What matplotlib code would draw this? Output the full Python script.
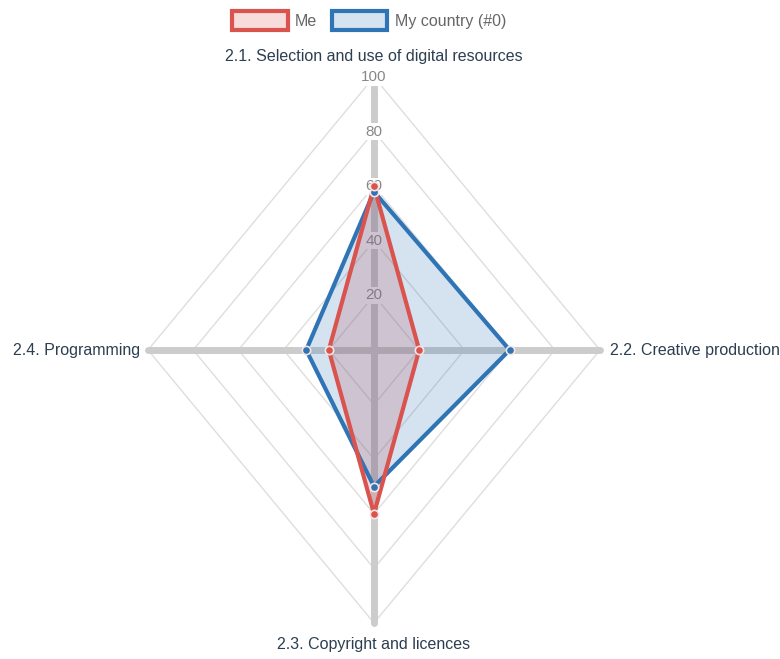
import numpy as np
import matplotlib
matplotlib.use("Agg")
import matplotlib.pyplot as plt
from matplotlib.patches import Patch

plt.rcParams['font.family'] = ['Liberation Sans', 'DejaVu Sans']

categories = ['2.1. Selection and use of digital resources', '2.2. Creative production',
              '2.3. Copyright and licences', '2.4. Programming']
me = [60, 20, 60, 20]
country = [58, 60, 50, 30]
ticks = [20, 40, 60, 80, 100]

red = '#d9534f'
blue = '#2f74b5'
text_col = '#2c3e50'

fig = plt.figure(figsize=(7.8, 6.59), dpi=100)
ax = fig.add_axes([0, 0, 1, 1])
# centre at (374, 350) px, 100 units = 226 px across, 273 px up
ax.set_xlim(-374 / 226 * 100, (780 - 374) / 226 * 100)
ax.set_ylim(-309 / 273 * 100, 350 / 273 * 100)
ax.axis('off')

n = len(categories)
theta = np.arange(n) * 2 * np.pi / n
sx = np.sin(theta)
cy = np.cos(theta)

# grid rings
for t in ticks:
    ax.plot(np.append(sx, sx[0]) * t, np.append(cy, cy[0]) * t, color='#dedede', lw=1, zorder=1)
# spokes
for i in range(n):
    ax.plot([0, sx[i] * 100], [0, cy[i] * 100], color='#cccccc', lw=5, solid_capstyle='round', zorder=2)

# tick labels
for t in ticks:
    ax.text(0, t, str(t), ha='center', va='center', fontsize=11, color='#888888', zorder=3,
            bbox=dict(boxstyle='square,pad=0.1', fc='white', ec='none'))

# data
for vals, col, fa in [(me, red, 0.22), (country, blue, 0.2)]:
    xs = np.append(sx * vals, sx[0] * vals[0])
    ys = np.append(cy * vals, cy[0] * vals[0])
    ax.fill(xs, ys, color=col, alpha=fa, lw=0, zorder=4)
for vals, col in [(country, blue), (me, red)]:
    xs = np.append(sx * vals, sx[0] * vals[0])
    ys = np.append(cy * vals, cy[0] * vals[0])
    ax.plot(xs, ys, color=col, lw=3, zorder=5)
    ax.plot(sx * vals, cy * vals, 'o', ms=6, mfc=col, mec='#f5e5e5', mew=1.2, zorder=6)

# category labels
fs = 11.5
ax.text(0, 100 + 21 / 2.73, categories[0], ha='center', va='center', fontsize=fs, color=text_col)
ax.text(100 + 10 / 2.26, 0, categories[1], ha='left', va='center', fontsize=fs, color=text_col)
ax.text(0, -100 - 22 / 2.73, categories[2], ha='center', va='center', fontsize=fs, color=text_col)
ax.text(-100 - 8 / 2.26, 0, categories[3], ha='right', va='center', fontsize=fs, color=text_col)

handles = [Patch(facecolor=(0.85, 0.33, 0.31, 0.2), edgecolor=red, lw=3, label='Me'),
           Patch(facecolor=(0.18, 0.45, 0.71, 0.2), edgecolor=blue, lw=3, label='My country (#0)')]
ax.legend(handles=handles, loc='upper center', bbox_to_anchor=(0.473, 1.005), ncol=2, frameon=False,
          fontsize=fs, handlelength=3.5, handleheight=1.4, columnspacing=0.9, handletextpad=0.45,
          labelcolor='#666666')

fig.savefig('out.png', dpi=100)
